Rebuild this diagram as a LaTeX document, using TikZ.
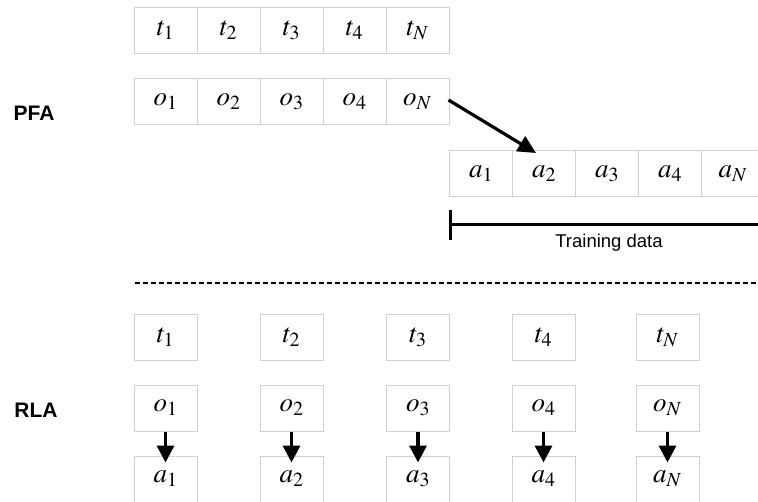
\documentclass[tikz,border=0pt]{standalone}
\usepackage{mathptmx}
\usepackage{fontspec}
\setmainfont{Liberation Serif}
\setsansfont{Liberation Sans}
\usetikzlibrary{arrows.meta}
\begin{document}
\begin{tikzpicture}[x=1pt,y=-1pt,
  cell/.style={draw=black!18, line width=1pt, minimum width=63pt, minimum height=46pt,
               inner sep=0pt, font=\fontsize{27}{29}\selectfont},
  rowlabel/.style={font=\sffamily\bfseries\fontsize{21}{23}\selectfont},
  bigarrow/.style={line width=3.4pt, -{Triangle[length=17pt,width=17pt]}},
]
\useasboundingbox (0,0) rectangle (758,501);

% PFA: sequences laid out as contiguous strips
\foreach \lab [count=\i from 0] in {1,2,3,4,N} {
  \node[cell] (pt\i) at ({165.5+63*\i},30) {$t_{\lab}$};
  \node[cell] (po\i) at ({165.5+63*\i},101.5) {$o_{\lab}$};
  \node[cell] (pa\i) at ({481+63*\i},173.5) {$a_{\lab}$};
}
\node[rowlabel] (pfa) at (34,113) {PFA};

\draw[line width=3.2pt, -{Triangle[length=18pt,width=17pt]}]
  ([xshift=-1pt,yshift=1.5pt]po4.east) -- ([xshift=-8pt,yshift=-3pt]pa1.north);

% training-data span
\coordinate (tdL) at (450,224);
\coordinate (tdR) at (760,224);
\draw[line width=3pt] (450,210) -- (450,240);
\draw[line width=3pt] (tdL) -- (tdR);
\node[font=\sffamily\fontsize{18.5}{20}\selectfont] (td) at (609,243) {Training data};

% separator
\coordinate (sepL) at (135,283);
\coordinate (sepR) at (758,283);
\draw[line width=2pt, dash pattern=on 5pt off 3pt] (sepL) -- (sepR);

% RLA: separate boxes, each observation mapped to an action
\foreach \lab/\x [count=\i from 0] in {1/165.5,2/291.5,3/418,4/543.5,N/667.5} {
  \node[cell] (rt\i) at (\x,337.5) {$t_{\lab}$};
  \node[cell] (ro\i) at (\x,408) {$o_{\lab}$};
  \node[cell] (ra\i) at (\x,479) {$a_{\lab}$};
  \draw[bigarrow] (ro\i.south) -- ([yshift=-7pt]ra\i.north);
}
\node[rowlabel] (rla) at (36,410) {RLA};
\end{tikzpicture}
\end{document}
